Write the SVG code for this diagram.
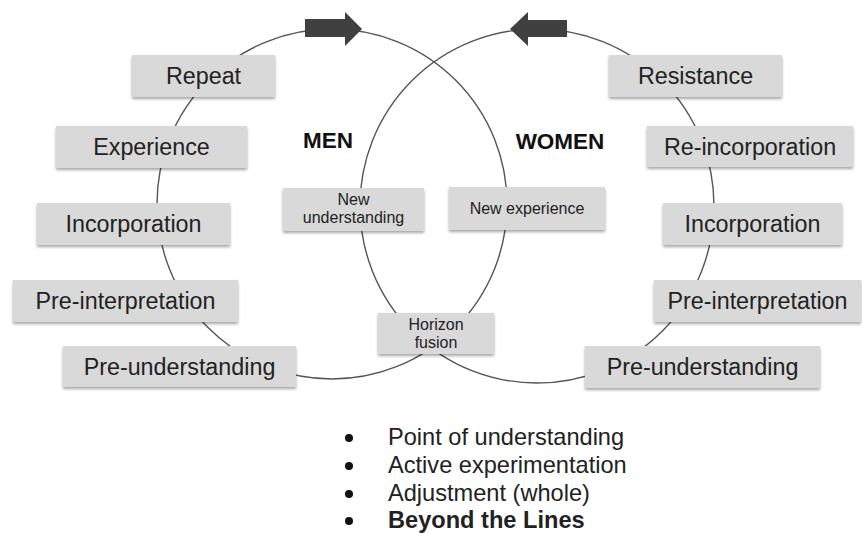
<svg xmlns="http://www.w3.org/2000/svg" width="862" height="533" viewBox="0 0 862 533">
<style>
  .box { fill: #d9d9d9; filter: url(#sh); }
  .lbl { font-family: "Liberation Sans", Arial, sans-serif; font-size: 23.3px; fill: #222; text-anchor: middle; }
  .sm { font-family: "Liberation Sans", Arial, sans-serif; font-size: 16px; fill: #222; text-anchor: middle; }
  .hd { font-family: "Liberation Sans", Arial, sans-serif; font-size: 22.5px; font-weight: bold; fill: #111; text-anchor: middle; }
  .bl { font-family: "Liberation Sans", Arial, sans-serif; font-size: 23.6px; fill: #222; }
  .ring { fill: none; stroke: #555; stroke-width: 1.4; }
  .arrow { fill: #404040; }
</style>
<defs>
  <filter id="sh" x="-10%" y="-20%" width="120%" height="150%">
    <feDropShadow dx="0" dy="2" stdDeviation="1.5" flood-color="#000" flood-opacity="0.35"/>
  </filter>
</defs>
<rect width="862" height="533" fill="#fff"/>
<g id="connectors">
  <circle class="ring" cx="332" cy="204" r="175"/>
  <circle class="ring" cx="537" cy="206" r="177"/>
  <polygon class="arrow" points="305,19 345,19 345,12 362,29 345,46 345,37 305,37"/>
  <polygon class="arrow" points="567,20 528,20 528,12 510,29 528,46 528,37 567,37"/>
</g>
<g id="men-label"><text class="hd" x="328" y="148">MEN</text></g>
<g id="women-label"><text class="hd" x="560" y="149">WOMEN</text></g>
<g id="repeat"><rect class="box" x="132" y="55" width="143" height="42"/><text class="lbl" x="203.5" y="84">Repeat</text></g>
<g id="experience"><rect class="box" x="56" y="126" width="191" height="42"/><text class="lbl" x="151.5" y="155">Experience</text></g>
<g id="incorporation-l"><rect class="box" x="37" y="203" width="193" height="42"/><text class="lbl" x="133.5" y="232">Incorporation</text></g>
<g id="preinterpretation-l"><rect class="box" x="13" y="280" width="225" height="42"/><text class="lbl" x="125.5" y="309">Pre-interpretation</text></g>
<g id="preunderstanding-l"><rect class="box" x="63" y="346" width="233" height="41"/><text class="lbl" x="179.5" y="375">Pre-understanding</text></g>
<g id="resistance"><rect class="box" x="609" y="55" width="173" height="42"/><text class="lbl" x="695.5" y="84">Resistance</text></g>
<g id="reincorporation"><rect class="box" x="647" y="126" width="206" height="41"/><text class="lbl" x="750" y="155">Re-incorporation</text></g>
<g id="incorporation-r"><rect class="box" x="663" y="203" width="179" height="42"/><text class="lbl" x="752.5" y="232">Incorporation</text></g>
<g id="preinterpretation-r"><rect class="box" x="654" y="280" width="207" height="42"/><text class="lbl" x="757.5" y="309">Pre-interpretation</text></g>
<g id="preunderstanding-r"><rect class="box" x="585" y="346" width="235" height="42"/><text class="lbl" x="702.5" y="375">Pre-understanding</text></g>
<g id="new-understanding"><rect class="box" x="283" y="188" width="141" height="43"/><text class="sm" x="353.5" y="205">New</text><text class="sm" x="353.5" y="223">understanding</text></g>
<g id="new-experience"><rect class="box" x="449" y="187" width="156" height="43"/><text class="sm" x="527" y="214">New experience</text></g>
<g id="horizon-fusion"><rect class="box" x="378" y="313" width="116" height="41"/><text class="sm" x="436" y="330">Horizon</text><text class="sm" x="436" y="348">fusion</text></g>
<g id="bullets">
  <circle cx="349" cy="438" r="4" fill="#111"/>
  <circle cx="349" cy="466" r="4" fill="#111"/>
  <circle cx="349" cy="494" r="4" fill="#111"/>
  <circle cx="349" cy="521" r="4" fill="#111"/>
  <text class="bl" x="388" y="445">Point of understanding</text>
  <text class="bl" x="388" y="473">Active experimentation</text>
  <text class="bl" x="388" y="501">Adjustment (whole)</text>
  <text class="bl" x="388" y="528" font-weight="bold" fill="#111">Beyond the Lines</text>
</g>
</svg>
